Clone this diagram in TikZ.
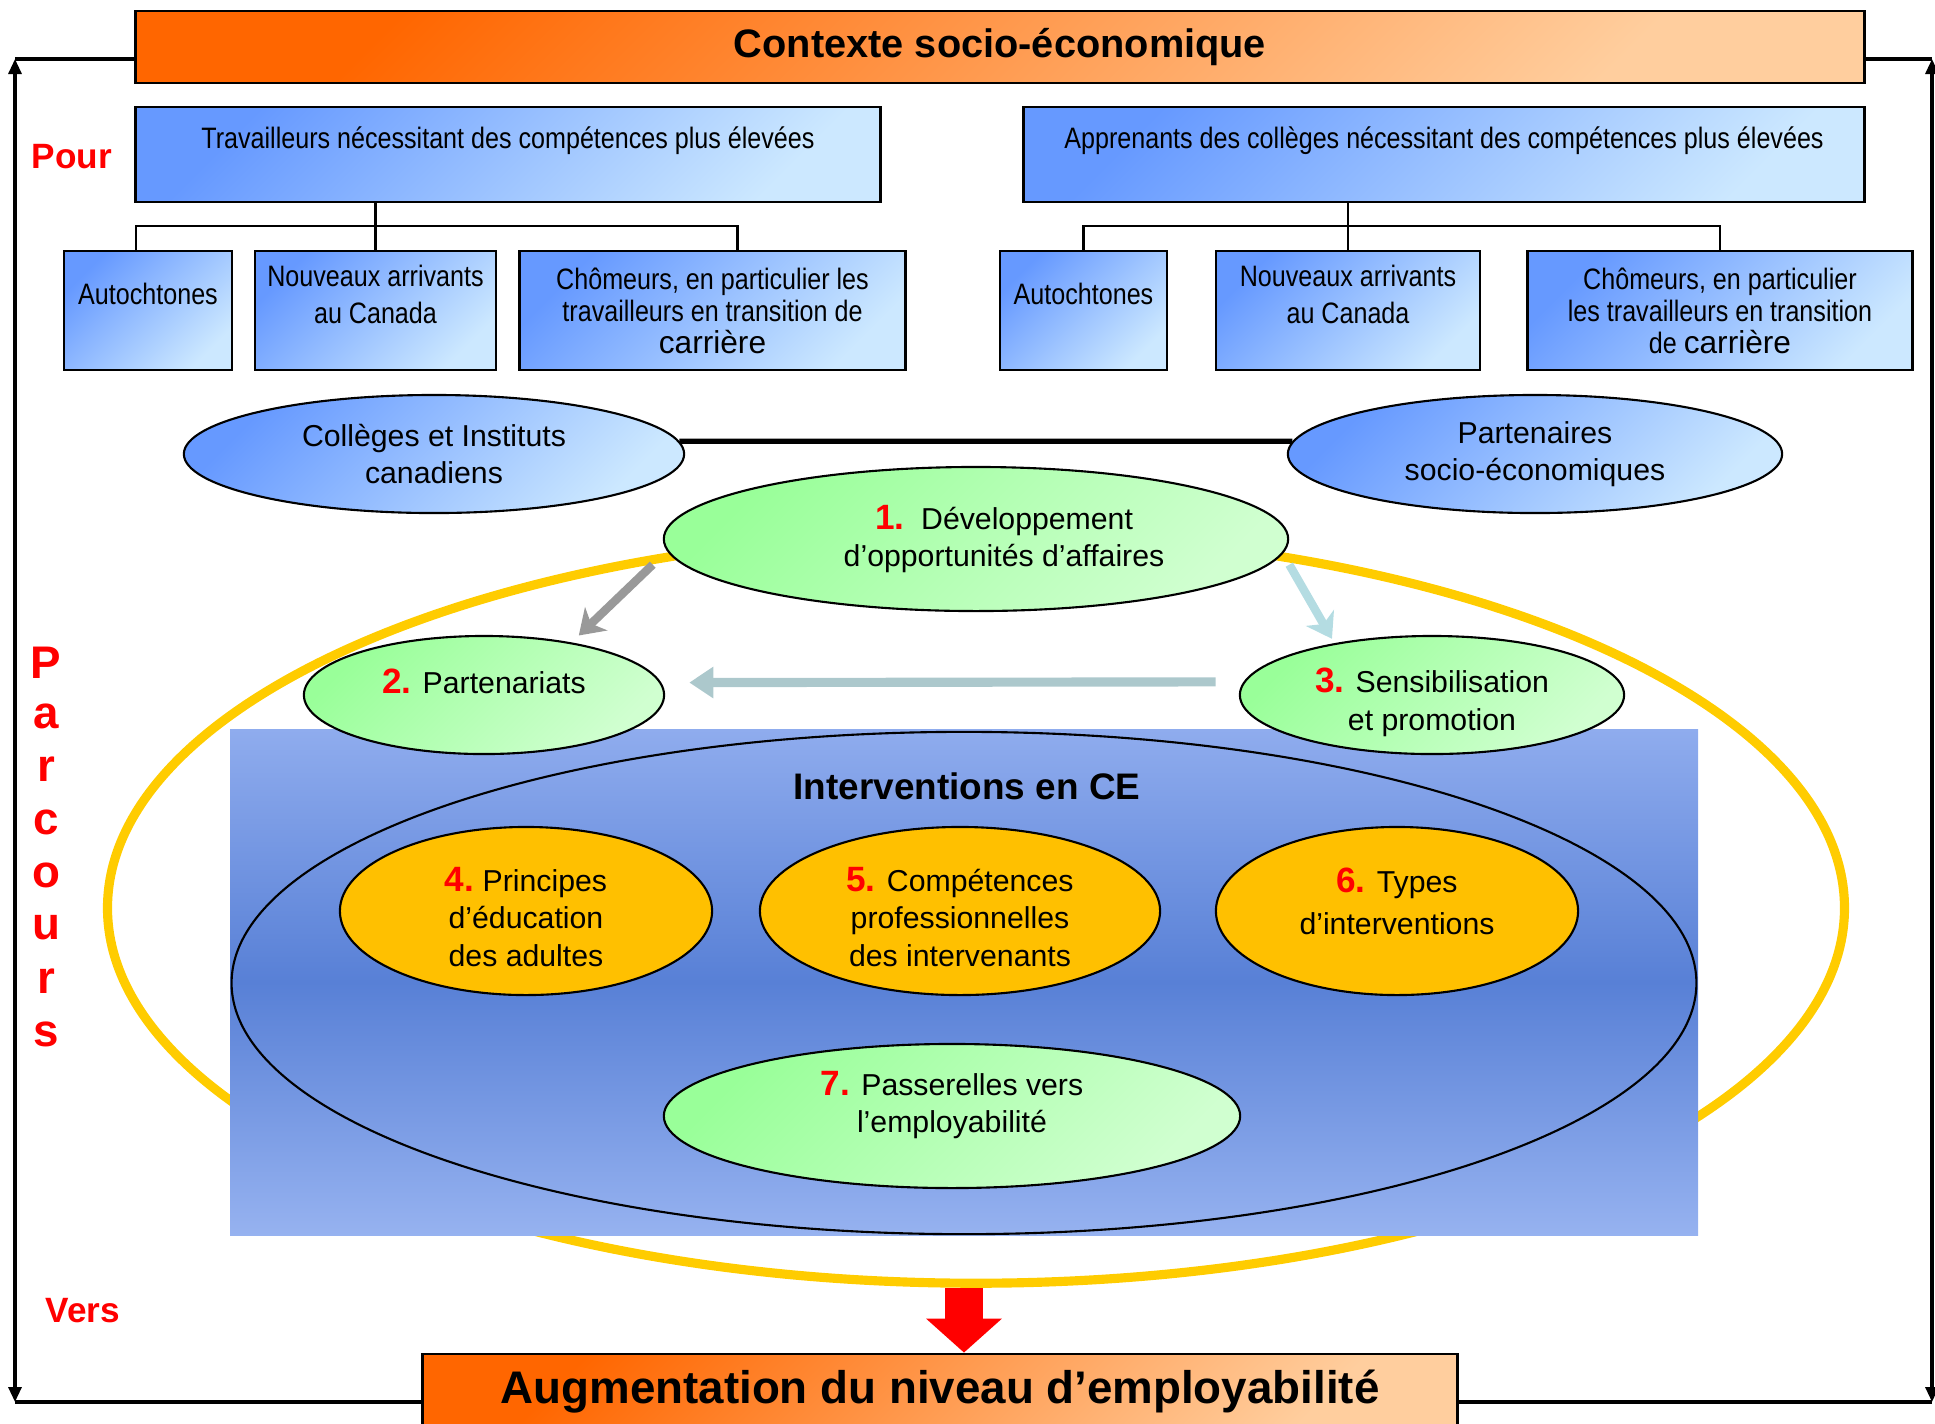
\documentclass[tikz,border=0pt]{standalone}
\usepackage{fontspec}
\setmainfont{Liberation Sans}
\newfontfamily\narrowfont[FakeStretch=0.85]{Liberation Sans}
\usetikzlibrary{shapes.geometric,arrows.meta}

\definecolor{orangeA}{RGB}{255,102,0}
\definecolor{orangeB}{RGB}{255,206,158}
\definecolor{blueA}{RGB}{102,153,255}
\definecolor{blueB}{RGB}{204,232,255}
\definecolor{greenA}{RGB}{153,255,153}
\definecolor{greenB}{RGB}{208,255,208}
\definecolor{ringyellow}{RGB}{255,204,0}
\definecolor{coreorange}{RGB}{255,192,0}
\definecolor{ceblueA}{RGB}{143,172,238}
\definecolor{ceblueB}{RGB}{88,128,214}
\definecolor{ceblueC}{RGB}{150,178,240}
\definecolor{arrowgray}{RGB}{153,153,153}
\definecolor{arrowcyan}{RGB}{180,220,226}
\definecolor{arrowteal}{RGB}{172,200,204}

\newcommand{\stepnum}[1]{{\color{red}\bfseries\fontsize{10}{10}\selectfont #1}}
\newcommand{\liftline}[1]{\rule[-#1]{0pt}{0pt}}
\newcommand{\dropline}[1]{\rule{0pt}{#1}}

\tikzset{
  headbox/.style={draw,line width=0.8pt,top color=orangeA,bottom color=orangeB,
    shading angle=45,inner sep=0pt},
  groupbox/.style={draw,line width=0.8pt,top color=blueA,bottom color=blueB,
    shading angle=45,inner sep=0pt,minimum height=0.95cm,
    font=\narrowfont\fontsize{8.4}{10.5}\selectfont},
  subbox/.style={groupbox,minimum height=1.19cm,align=center},
  orgellipse/.style={ellipse,draw,line width=0.6pt,top color=blueA,bottom color=blueB,
    shading angle=45,inner sep=0pt,align=center,font=\fontsize{8.6}{10.4}\selectfont},
  stepellipse/.style={ellipse,draw,line width=0.6pt,top color=greenA,bottom color=greenB,
    shading angle=45,inner sep=0pt,align=center,font=\fontsize{8.6}{10.6}\selectfont},
  coreellipse/.style={ellipse,draw,line width=0.6pt,fill=coreorange,inner sep=0pt,
    align=center,font=\fontsize{8.6}{10.6}\selectfont},
  redword/.style={text=red,font=\bfseries\fontsize{10}{12}\selectfont},
  frame/.style={line width=0.9pt,>={Triangle[length=0.15cm,width=0.13cm]}},
  tree/.style={line width=0.6pt},
}

\begin{document}
\begin{tikzpicture}[x=0.01cm,y=-0.01cm]
\useasboundingbox (0,0) rectangle (1935,1423);
\clip (0,0) rectangle (1935,1423);

\node[ellipse,draw=ringyellow,line width=2.6pt,minimum width=17.36cm,minimum height=7.5cm,inner sep=0pt] (ring) at (976,908) {};
\shade[top color=ceblueA,bottom color=ceblueC,middle color=ceblueB] (230,729) rectangle (1698,1235);

\node[ellipse,draw,line width=0.6pt,minimum width=14.64cm,minimum height=5.02cm,inner sep=0pt] (ce) at (964,983) {};
\node[font=\bfseries\fontsize{10.5}{12}\selectfont] (cetitle) at (967,786) {Interventions en CE};
\node[coreellipse,minimum width=3.72cm,minimum height=1.68cm] (prin) at (526,911) {\dropline{0.36cm}\stepnum{4.}\ Principes\\d’éducation\\des adultes};
\node[coreellipse,minimum width=4.0cm,minimum height=1.68cm] (comp) at (960,911) {\dropline{0.36cm}\stepnum{5.} Compétences\\professionnelles\\des intervenants};
\node[coreellipse,minimum width=3.62cm,minimum height=1.68cm] (types) at (1397,911) {\stepnum{6.} Types\\[1.5pt]d’interventions\liftline{0.2cm}};
\node[stepellipse,minimum width=5.76cm,minimum height=1.44cm] (pass) at (952,1116) {\stepnum{7.} Passerelles vers\\l’employabilité\liftline{0.28cm}};

\node[stepellipse,minimum width=6.24cm,minimum height=1.44cm] (dev) at (976,539) {\hspace*{0.56cm}\stepnum{1.}\ \ Développement\\\hspace*{0.56cm}d’opportunités d’affaires};
\node[stepellipse,minimum width=3.6cm,minimum height=1.18cm] (par) at (484,695) {\stepnum{2.} Partenariats\liftline{0.28cm}};
\node[stepellipse,minimum width=3.84cm,minimum height=1.18cm] (sen) at (1432,695) {\dropline{0.39cm}\stepnum{3.} Sensibilisation\\et promotion};

\draw[arrowgray,line width=2.4pt,-{Stealth[length=0.24cm,width=0.32cm,inset=0.07cm]},shorten >=0.1cm] ([xshift=-0.3cm]dev.185) -- (par.31);
\draw[arrowcyan,line width=2.4pt,-{Stealth[length=0.24cm,width=0.32cm,inset=0.07cm]},shorten >=0.05cm] ([xshift=0.2cm]dev.-5) -- (sen.152);
\draw[arrowteal,line width=2.6pt,-{Triangle[length=0.24cm,width=0.3cm]},shorten <=0.28cm,shorten >=0.28cm] (sen.176) -- (par.4);

\node[headbox,minimum width=17.28cm,minimum height=0.72cm,font=\bfseries\fontsize{11.3}{13}\selectfont] (ctx) at (1000,47) {Contexte socio-économique};

\node[groupbox,minimum width=7.44cm] (grpL) at (508,154.5) {Travailleurs nécessitant des compétences plus élevées\liftline{0.34cm}};
\node[groupbox,minimum width=8.40cm] (grpR) at (1444,154.5) {Apprenants des collèges nécessitant des compétences plus élevées\liftline{0.34cm}};

\node[subbox,minimum width=1.68cm] (autL) at (148,310.5) {Autochtones\liftline{0.34cm}};
\node[subbox,minimum width=2.41cm] (nouvL) at (375.5,310.5) {Nouveaux arrivants\\au Canada\liftline{0.32cm}};
\node[subbox,minimum width=3.85cm,font=\narrowfont\fontsize{8.4}{9.1}\selectfont] (chomL) at (712.5,310.5) {Chômeurs, en particulier les\\travailleurs en transition de\\{\normalfont\fontsize{9}{9.1}\selectfont carrière}};
\node[subbox,minimum width=1.67cm] (autR) at (1083.5,310.5) {Autochtones\liftline{0.34cm}};
\node[subbox,minimum width=2.64cm] (nouvR) at (1348,310.5) {Nouveaux arrivants\\au Canada\liftline{0.32cm}};
\node[subbox,minimum width=3.84cm,font=\narrowfont\fontsize{8.4}{9.1}\selectfont] (chomR) at (1720,310.5) {Chômeurs, en particulier\\les travailleurs en transition\\de {\normalfont\fontsize{9}{9.1}\selectfont carrière}};

\draw[tree] (grpL.south -| nouvL.north) -- (nouvL.north);
\draw[tree] ([xshift=-0.12cm]autL.north) -- ++(0,-24) -| ([xshift=0.25cm]chomL.north);
\draw[tree] (grpR.south -| nouvR.north) -- (nouvR.north);
\draw[tree] (autR.north) -- ++(0,-24) -| (chomR.north);

\node[orgellipse,minimum width=5.0cm,minimum height=1.18cm] (coll) at (434,454) {Collèges et Instituts\\canadiens};
\node[orgellipse,minimum width=4.94cm,minimum height=1.18cm] (part) at (1535,454) {Partenaires\\socio-économiques};
\draw[line width=1.5pt] (coll.3) -- (part.177);

\node[headbox,minimum width=10.35cm,minimum height=0.76cm,font=\bfseries\fontsize{13}{15}\selectfont] (aug) at (940,1392) {Augmentation du niveau d’employabilité};
\draw[red,line width=0.38cm,-{Triangle[length=0.34cm,width=0.74cm]}] ([xshift=-0.12cm]ring.south) -- ([xshift=-0.12cm]ring.south |- aug.north);

\coordinate (tl) at (15,59);
\coordinate (bl) at (15,1402);
\coordinate (tr) at (1932,59);
\coordinate (br) at (1932,1402);
\draw[frame] (ctx.west |- tl) -- (tl);
\draw[frame,<->] (tl) -- (bl);
\draw[frame] (aug.west |- bl) -- (bl);
\draw[frame] (ctx.east |- tr) -- (tr);
\draw[frame,<->] (tr) -- (br);
\draw[frame] (aug.east |- br) -- (br);

\node[redword] (pour) at (72,157) {Pour};
\node[redword] (vers) at (83,1311) {Vers};
\foreach \ch [count=\i] in {P,a,r,c,o,u,r,s}
  \node[redword,font=\bfseries\fontsize{13}{13}\selectfont] (parc\i) at (46,{663+53*(\i-1)}) {\ch};
\end{tikzpicture}
\end{document}
